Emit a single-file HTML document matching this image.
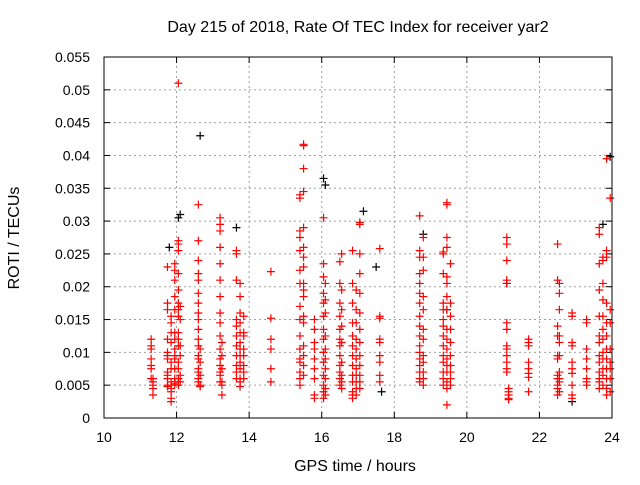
<!DOCTYPE html>
<html><head><meta charset="utf-8"><style>
body{margin:0;background:#fff;}
svg text{font-family:"Liberation Sans",sans-serif;font-size:14px;fill:#000;}
svg text.big{font-size:16px;}
</style></head><body>
<svg id="chart" width="640" height="480">
<rect width="640" height="480" fill="#fff"/>
<text class="big" x="358" y="32" text-anchor="middle">Day 215 of 2018, Rate Of TEC Index for receiver yar2</text>
<text class="big" x="355" y="471" text-anchor="middle">GPS time / hours</text>
<text class="big" transform="translate(19,238) rotate(-90)" text-anchor="middle">ROTI / TECUs</text>
<g id="grid"></g><g id="ticks"></g><g id="marks"></g>
<rect x="104" y="57" width="508" height="361" fill="none" stroke="#000"/>
</svg>
<script>
const xTicks=[10,12,14,16,18,20,22,24];
const yTicks=[0,0.005,0.01,0.015,0.02,0.025,0.03,0.035,0.04,0.045,0.05,0.055];
const yTickLabels=["0","0.005","0.01","0.015","0.02","0.025","0.03","0.035","0.04","0.045","0.05","0.055"];
const redHours=[11.3,11.35,11.75,11.85,11.95,12.05,12.1,12.6,12.65,13.2,13.25,13.65,13.75,13.85,14.6,15.4,15.5,15.8,16.05,16.1,16.5,16.55,16.85,16.95,17.05,17.6,18.7,18.8,19.35,19.45,19.55,21.1,21.15,21.7,22.5,22.55,22.9,23.3,23.65,23.75,23.85,23.95];
const redValues=[
[0.012,0.011,0.0105,0.009,0.008,0.0075,0.006],
[0.0055,0.005,0.0045,0.006,0.0035],
[0.023,0.0175,0.0165,0.012,0.01,0.0095,0.009,0.007,0.0065,0.006,0.005,0.0048],
[0.0155,0.0145,0.013,0.0115,0.0085,0.0075,0.0055,0.005,0.0045,0.003,0.0025,0.004],
[0.0235,0.0225,0.021,0.0185,0.0165,0.013,0.012,0.0105,0.0095,0.009,0.0075,0.006,0.0055,0.0052],
[0.051,0.027,0.0265,0.0255,0.022,0.0195,0.0175,0.0165,0.0155,0.013,0.012,0.011,0.0085,0.0075,0.006,0.0055,0.005],
[0.017,0.015,0.011,0.0095,0.0065,0.0055],
[0.0325,0.027,0.024,0.022,0.021,0.019,0.0175,0.016,0.015,0.0135,0.012,0.011,0.0095,0.009,0.0075,0.007,0.006,0.0055],
[0.0105,0.0085,0.0065,0.005,0.0048],
[0.0305,0.0295,0.0285,0.026,0.0235,0.021,0.0185,0.016,0.0145,0.0125,0.0105,0.009,0.008,0.007,0.0065,0.0055],
[0.0115,0.0095,0.0075,0.0055,0.005,0.0035],
[0.0255,0.025,0.021,0.015,0.014,0.0125,0.011,0.0095,0.008,0.007,0.006],
[0.0205,0.0185,0.016,0.0145,0.013,0.0115,0.0105,0.0095,0.0085,0.0075,0.006,0.0055,0.0048],
[0.0155,0.013,0.0125,0.0105,0.0095,0.008,0.007,0.006],
[0.0223,0.0152,0.012,0.0105,0.0075,0.0055],
[0.034,0.0335,0.0285,0.0275,0.0255,0.0225,0.0205,0.017,0.015,0.0125,0.0105,0.009,0.0085,0.007,0.006,0.005],
[0.0417,0.0415,0.038,0.0345,0.029,0.026,0.0245,0.023,0.0205,0.0195,0.0185,0.0155,0.0145,0.011,0.0095,0.008,0.0065],
[0.015,0.0135,0.0115,0.0105,0.009,0.0075,0.006,0.0035,0.003],
[0.0305,0.0235,0.0215,0.019,0.0175,0.0155,0.0135,0.012,0.01,0.0085,0.0065,0.005,0.004,0.003],
[0.0205,0.018,0.016,0.0125,0.0105,0.009,0.0075,0.006,0.0045,0.0035],
[0.0238,0.0205,0.0175,0.0155,0.0135,0.012,0.011,0.0095,0.008,0.007,0.006,0.005],
[0.025,0.0195,0.0165,0.014,0.0115,0.0085,0.0065,0.0055,0.0045],
[0.0255,0.0205,0.0175,0.0145,0.0125,0.011,0.0095,0.008,0.0065,0.0055,0.004,0.0035,0.003],
[0.0195,0.0165,0.0145,0.012,0.0105,0.009,0.0075,0.0065,0.0055,0.0045,0.0035],
[0.0298,0.0295,0.025,0.022,0.019,0.016,0.0135,0.0115,0.0095,0.008,0.0065,0.0055,0.0045],
[0.0258,0.0155,0.0152,0.012,0.0115,0.0095,0.0085,0.0065,0.0055],
[0.0308,0.0255,0.0245,0.022,0.0205,0.019,0.0175,0.0155,0.014,0.0125,0.011,0.01,0.009,0.008,0.007,0.006,0.0055],
[0.0275,0.0245,0.0225,0.0185,0.0165,0.0135,0.012,0.0095,0.0085,0.007,0.006,0.005],
[0.0253,0.025,0.022,0.0175,0.0165,0.015,0.014,0.0125,0.011,0.0095,0.0085,0.007,0.006,0.005],
[0.0328,0.0325,0.0275,0.026,0.0215,0.0205,0.0185,0.0165,0.0135,0.012,0.0105,0.009,0.008,0.007,0.0055,0.0045,0.002],
[0.0235,0.0175,0.0155,0.0135,0.0115,0.0095,0.008,0.007,0.006,0.005],
[0.0275,0.0265,0.024,0.021,0.0205,0.0145,0.0135,0.011,0.0105,0.0095,0.0085,0.0075,0.007],
[0.004,0.0035,0.003,0.0028,0.0045],
[0.012,0.0115,0.011,0.0085,0.0075,0.0068,0.0062,0.004],
[0.0265,0.021,0.014,0.0125,0.0095,0.009,0.0065,0.006,0.005,0.0045,0.0035],
[0.0205,0.019,0.0165,0.0125,0.0115,0.0095,0.007,0.006,0.0055,0.004],
[0.016,0.0155,0.0115,0.011,0.0085,0.0075,0.0068,0.005,0.0035,0.003],
[0.015,0.0145,0.0105,0.009,0.0075,0.006,0.0055,0.005],
[0.029,0.028,0.0235,0.0195,0.0155,0.0125,0.0115,0.0095,0.0085,0.007,0.006,0.0055,0.0045],
[0.0245,0.024,0.0205,0.018,0.0155,0.0135,0.012,0.01,0.009,0.0075,0.0065,0.005],
[0.0395,0.0255,0.0245,0.0175,0.0145,0.0125,0.0105,0.009,0.0075,0.006,0.0045,0.0035],
[0.0335,0.0165,0.0145,0.0105,0.0085,0.0075,0.006,0.004]
];
const blackHours=[11.8,12.05,12.1,12.65,13.65,16.05,16.1,17.15,17.5,17.65,18.8,19.45,21.1,22.9,23.75,23.95];
const blackValues=[0.026,0.0305,0.031,0.043,0.029,0.0365,0.0355,0.0315,0.023,0.004,0.028,0.0165,0.0205,0.0025,0.0295,0.0398];

const X0=104,X1=612,Y0=418,Y1=57;
const xs=h=>X0+(h-10)/(24-10)*(X1-X0);
const ys=v=>Y0-(v/0.055)*(Y0-Y1);
const NS="http://www.w3.org/2000/svg";
const grid=document.getElementById('grid'),ticks=document.getElementById('ticks'),marks=document.getElementById('marks');
function mk(tag,attrs,parent){const e=document.createElementNS(NS,tag);for(const k in attrs)e.setAttribute(k,attrs[k]);parent.appendChild(e);return e;}
yTicks.forEach((v,i)=>{
 const y=ys(v);
 if(i>0&&i<yTicks.length-1){const g=mk('line',{x1:X0,x2:X1,y1:y,y2:y,stroke:'#a0a0a0','stroke-dasharray':'2,3'},grid);
 
 }
 mk('line',{x1:X0,x2:X0+6,y1:y,y2:y,stroke:'#000'},ticks);
 mk('line',{x1:X1,x2:X1-6,y1:y,y2:y,stroke:'#000'},ticks);
 const t=mk('text',{x:90,y:y+5,'text-anchor':'end'},ticks);t.textContent=yTickLabels[i];
 
 
});
xTicks.forEach((h,i)=>{
 const x=xs(h);
 if(i>0&&i<xTicks.length-1){const g=mk('line',{x1:x,x2:x,y1:Y0,y2:Y1,stroke:'#a0a0a0','stroke-dasharray':'2,3'},grid);
 
 }
 mk('line',{x1:x,x2:x,y1:Y0,y2:Y0-6,stroke:'#000'},ticks);
 mk('line',{x1:x,x2:x,y1:Y1,y2:Y1+6,stroke:'#000'},ticks);
 const t=mk('text',{x:x,y:442,'text-anchor':'middle'},ticks);t.textContent=String(h);
 
 
});
function plus(h,v,color,name){
 const x=xs(h),y=ys(v);
 const p=mk('path',{d:`M${x-4},${y}H${x+4}M${x},${y-4}V${y+4}`,stroke:color,'stroke-width':1.2,fill:'none'},marks);
 
 
}
blackHours.forEach((h,i)=>plus(h,blackValues[i],'#000','black-point'));
redHours.forEach((h,i)=>redValues[i].forEach(v=>plus(h,v,'#ff0000','roti-point')));
</script>
</body></html>
